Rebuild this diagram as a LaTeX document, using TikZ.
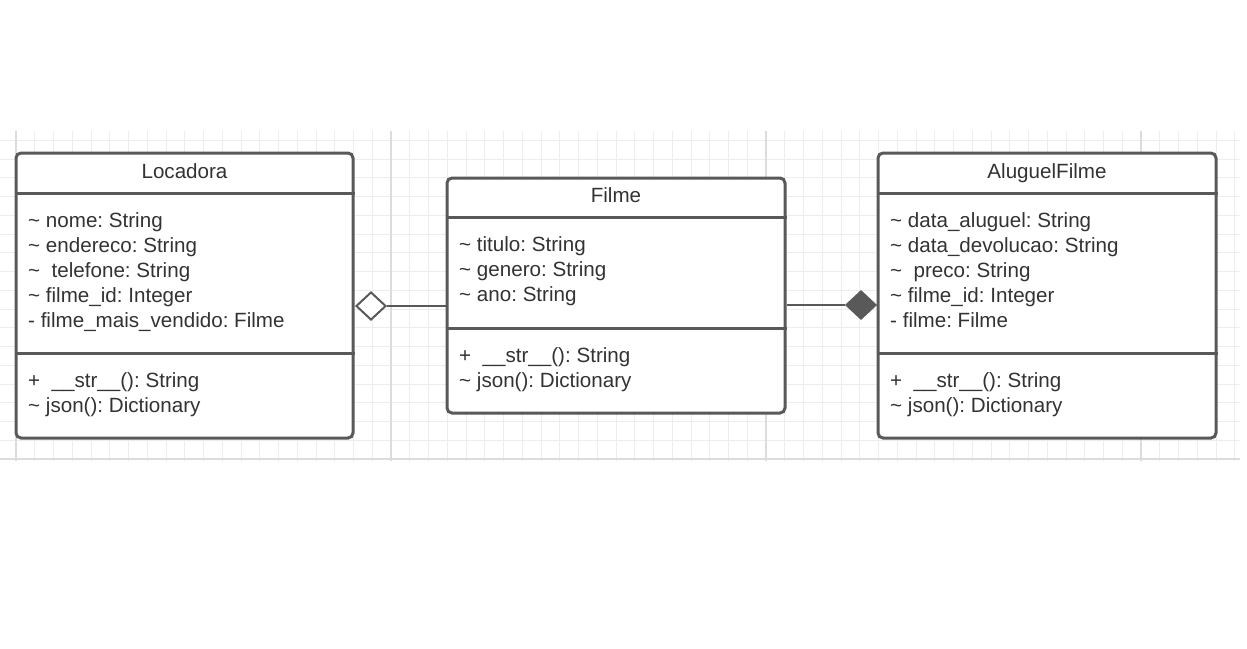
\documentclass[tikz,border=0pt]{standalone}
\usepackage{fontspec}
\setmainfont{Liberation Sans}
\frenchspacing
\usetikzlibrary{shapes.geometric}
\definecolor{umlgray}{HTML}{595959}
\definecolor{umltext}{HTML}{333333}
\definecolor{gridminor}{HTML}{EDEDED}
\definecolor{gridmajor}{HTML}{DCDCDC}
\tikzset{
  classbox/.style={draw=umlgray, line width=3pt, rounded corners=5pt, fill=white,
    inner sep=0pt},
  divider/.style={draw=umlgray, line width=3pt},
  txt/.style={text=umltext, inner sep=0pt, anchor=base west,
    font=\fontsize{20.6}{25}\selectfont},
  title/.style={txt, anchor=base},
  assoc/.style={draw=umlgray, line width=2pt},
  aggdiamond/.style={diamond, draw=umlgray, line width=2pt, fill=white,
    minimum width=30pt, minimum height=28pt, inner sep=0pt},
  compdiamond/.style={aggdiamond, fill=umlgray}
}
\newcommand{\tl}{\textasciitilde}
\begin{document}
\begin{tikzpicture}[x=1pt, y=-1pt]
    \useasboundingbox (0,0) rectangle (1247,648);

    % grid
    \foreach \gx in {16,34.75,...,1240}
        \draw[gridminor, line width=1pt] (\gx,131) -- (\gx,461);
    \foreach \gy in {140.25,159,...,461}
        \draw[gridminor, line width=1pt] (0,\gy) -- (1240,\gy);
    \foreach \gx in {16,391,766,1141}
        \draw[gridmajor, line width=1.5pt] (\gx,131) -- (\gx,461);
    \draw[gridmajor, line width=1.5pt] (0,459) -- (1240,459);

    % Locadora
    \node[classbox, minimum width=337pt, minimum height=285pt] (locadora) at (184.5,295.5) {};
    \draw[divider] (locadora.west |- 0,193) -- (locadora.east |- 0,193);
    \draw[divider] (locadora.west |- 0,353) -- (locadora.east |- 0,353);
    \node[title] (locadora-t) at (184.5,178) {Locadora};
    \foreach \t [count=\i] in {\tl{} nome: String, \tl{} endereco: String,
        \tl{} \ telefone: String, \tl{} filme\_id: Integer,
        - filme\_mais\_vendido: Filme}
        \node[txt] (locadora-a\i) at (28,{227.8+25*(\i-1)}) {\t};
    \foreach \t [count=\i] in {+ \ \_\_str\_\_(): String, \tl{} json(): Dictionary}
        \node[txt] (locadora-m\i) at (28,{387.8+25*(\i-1)}) {\t};

    % Filme
    \node[classbox, minimum width=338pt, minimum height=235pt] (filme) at (616,295.5) {};
    \draw[divider] (filme.west |- 0,217) -- (filme.east |- 0,217);
    \draw[divider] (filme.west |- 0,328) -- (filme.east |- 0,328);
    \node[title] (filme-t) at (616,202) {Filme};
    \foreach \t [count=\i] in {\tl{} titulo: String, \tl{} genero: String,
        \tl{} ano: String}
        \node[txt] (filme-a\i) at (459,{251.8+25*(\i-1)}) {\t};
    \foreach \t [count=\i] in {+ \ \_\_str\_\_(): String, \tl{} json(): Dictionary}
        \node[txt] (filme-m\i) at (459,{362.8+25*(\i-1)}) {\t};

    % AluguelFilme
    \node[classbox, minimum width=338pt, minimum height=285pt] (aluguel) at (1047,295.5) {};
    \draw[divider] (aluguel.west |- 0,193) -- (aluguel.east |- 0,193);
    \draw[divider] (aluguel.west |- 0,353) -- (aluguel.east |- 0,353);
    \node[title] (aluguel-t) at (1047,178) {AluguelFilme};
    \foreach \t [count=\i] in {\tl{} data\_aluguel: String, \tl{} data\_devolucao: String,
        \tl{} \ preco: String, \tl{} filme\_id: Integer, - filme: Filme}
        \node[txt] (aluguel-a\i) at (890,{227.8+25*(\i-1)}) {\t};
    \foreach \t [count=\i] in {+ \ \_\_str\_\_(): String, \tl{} json(): Dictionary}
        \node[txt] (aluguel-m\i) at (890,{387.8+25*(\i-1)}) {\t};

    % associations
    \node[aggdiamond, anchor=west] (agg) at (355,306) {};
    \draw[assoc] (agg.east) -- (agg.east -| filme.west);
    \node[compdiamond, anchor=east] (comp) at (877,305) {};
    \draw[assoc] (comp.west -| filme.east) -- (comp.west);
\end{tikzpicture}
\end{document}
